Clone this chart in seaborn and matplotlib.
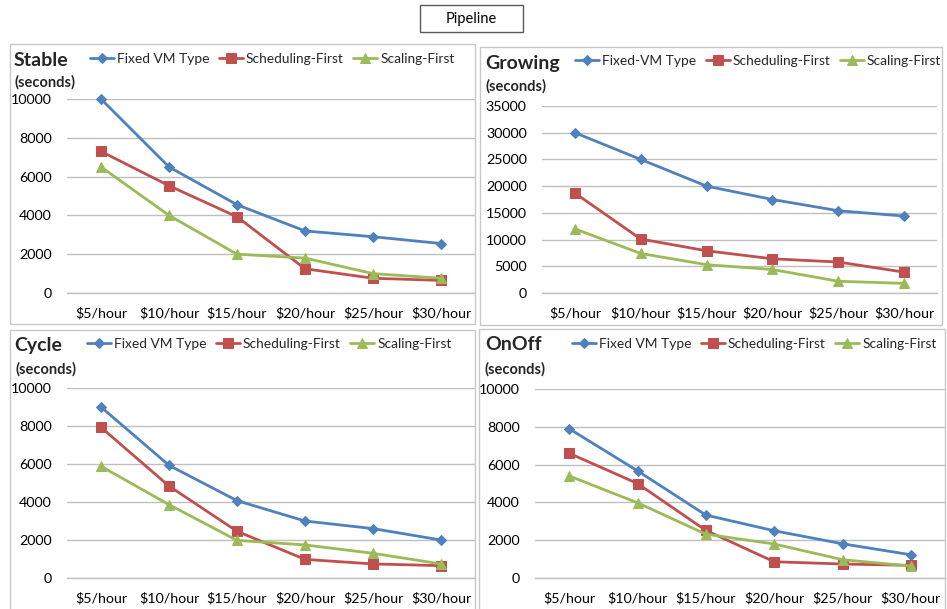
import matplotlib
matplotlib.use("Agg")
import matplotlib.pyplot as plt
from matplotlib.patches import Rectangle
import pandas as pd
import seaborn as sns

sns.set_style("white")
plt.rcParams["font.family"] = ["Lato", "DejaVu Sans"]

# Hourly budget levels (x categories)
budgets = ["$5/hour", "$10/hour", "$15/hour", "$20/hour", "$25/hour", "$30/hour"]

# Execution time in seconds for each workload pattern
stable_fixed = [10000, 6500, 4550, 3200, 2900, 2550]
stable_sched = [7300, 5530, 3930, 1250, 760, 650]
stable_scal = [6500, 4000, 2000, 1800, 1000, 760]

growing_fixed = [30000, 25000, 20000, 17500, 15400, 14400]
growing_sched = [18700, 10100, 7900, 6400, 5800, 3900]
growing_scal = [12000, 7400, 5300, 4400, 2200, 1800]

cycle_fixed = [9000, 5930, 4070, 3000, 2600, 2000]
cycle_sched = [7930, 4840, 2460, 980, 740, 650]
cycle_scal = [5880, 3860, 1980, 1740, 1300, 740]

onoff_fixed = [7900, 5670, 3330, 2500, 1810, 1230]
onoff_sched = [6600, 5000, 2520, 860, 740, 670]
onoff_scal = [5400, 3980, 2320, 1800, 970, 630]

sched_label = "Scheduling-First"
scal_label = "Scaling-First"

BLUE, RED, GREEN = "#4F81BD", "#C0504D", "#9BBB59"
GRID = "#BFBFBF"
W, H = 947, 609

fig = plt.figure(figsize=(W / 100, H / 100), dpi=100)


def px_axes(x0, y0, x1, y1):
    """Axes from pixel box (left, top, right, bottom)."""
    return fig.add_axes([x0 / W, 1 - y1 / H, (x1 - x0) / W, (y1 - y0) / H])


def px_rect(x0, y0, x1, y1, ec, lw=1.0):
    fig.patches.append(Rectangle((x0 / W, 1 - y1 / H), (x1 - x0) / W, (y1 - y0) / H,
                                 transform=fig.transFigure, fill=False,
                                 edgecolor=ec, linewidth=lw))


def px_text(x, y, s, **kw):
    fig.text(x / W, 1 - y / H, s, **kw)


panels = [
    dict(name="Stable", box=(10, 44, 475, 324), ax=(67, 99, 475, 293),
         ymax=10000, step=2000, fixed_label="Fixed VM Type",
         series=(stable_fixed, stable_sched, stable_scal),
         title_xy=(14, 60), sec_xy=(14, 82), leg_xy=(90, 59)),
    dict(name="Growing", box=(480, 47, 942, 325), ax=(542, 106, 937, 293),
         ymax=35000, step=5000, fixed_label="Fixed-VM Type",
         series=(growing_fixed, growing_sched, growing_scal),
         title_xy=(485, 63), sec_xy=(485, 86), leg_xy=(575, 61)),
    dict(name="Cycle", box=(10, 330, 475, 612), ax=(67, 388, 475, 578),
         ymax=10000, step=2000, fixed_label="Fixed VM Type",
         series=(cycle_fixed, cycle_sched, cycle_scal),
         title_xy=(14, 345), sec_xy=(15, 369), leg_xy=(87, 344)),
    dict(name="OnOff", box=(479, 329, 945, 612), ax=(535, 389, 945, 578),
         ymax=10000, step=2000, fixed_label="Fixed VM Type",
         series=(onoff_fixed, onoff_sched, onoff_scal),
         title_xy=(485, 345), sec_xy=(484, 369), leg_xy=(572, 344)),
]

# Figure title box
px_rect(420, 5, 523, 32, "#595959", lw=1.0)
px_text(471.5, 18.5, "Pipeline", ha="center", va="center", fontsize=10.5, color="black")

for p in panels:
    px_rect(*p["box"], "#C8C8C8", lw=1.0)
    ax = px_axes(*p["ax"])
    fixed, sched, scal = p["series"]
    df = pd.DataFrame({"budget": budgets, "fixed": fixed, "sched": sched, "scal": scal})

    specs = [("fixed", p["fixed_label"], BLUE, "D", 5.5),
             ("sched", sched_label, RED, "s", 7.2),
             ("scal", scal_label, GREEN, "^", 7.8)]
    for col, lab, c, m, ms in specs:
        sns.lineplot(data=df, x="budget", y=col, ax=ax, color=c, marker=m,
                     markersize=ms, markeredgecolor=c, linewidth=2.0,
                     label=lab, clip_on=False, sort=False)

    ax.set_xlim(-0.5, len(budgets) - 0.5)
    ax.set_ylim(0, p["ymax"])
    ax.set_yticks(range(0, p["ymax"] + 1, p["step"]))
    ax.set_xlabel("")
    ax.set_ylabel("")
    ax.grid(axis="y", color=GRID, linewidth=1.0)
    ax.set_axisbelow(True)
    for s in ("top", "right", "left"):
        ax.spines[s].set_visible(False)
    ax.spines["bottom"].set_color(GRID)
    ax.spines["bottom"].set_linewidth(1.0)
    ax.tick_params(axis="both", length=0, labelsize=10.3, colors="black")
    ax.tick_params(axis="x", pad=10)
    ax.tick_params(axis="y", pad=11)
    ax.set_facecolor("none")

    px_text(*p["title_xy"], p["name"], ha="left", va="center",
            fontsize=14, fontweight="bold")
    px_text(*p["sec_xy"], "(seconds)", ha="left", va="center",
            fontsize=10.5, fontweight="bold")

    lx, ly = p["leg_xy"]
    ax.legend(loc="center left", bbox_to_anchor=(lx / W, 1 - ly / H),
              bbox_transform=fig.transFigure, ncol=3, frameon=False,
              fontsize=9.9, handlelength=1.75, handletextpad=0.2,
              columnspacing=0.7, borderpad=0, borderaxespad=0)

fig.savefig("out.png", dpi=100)
